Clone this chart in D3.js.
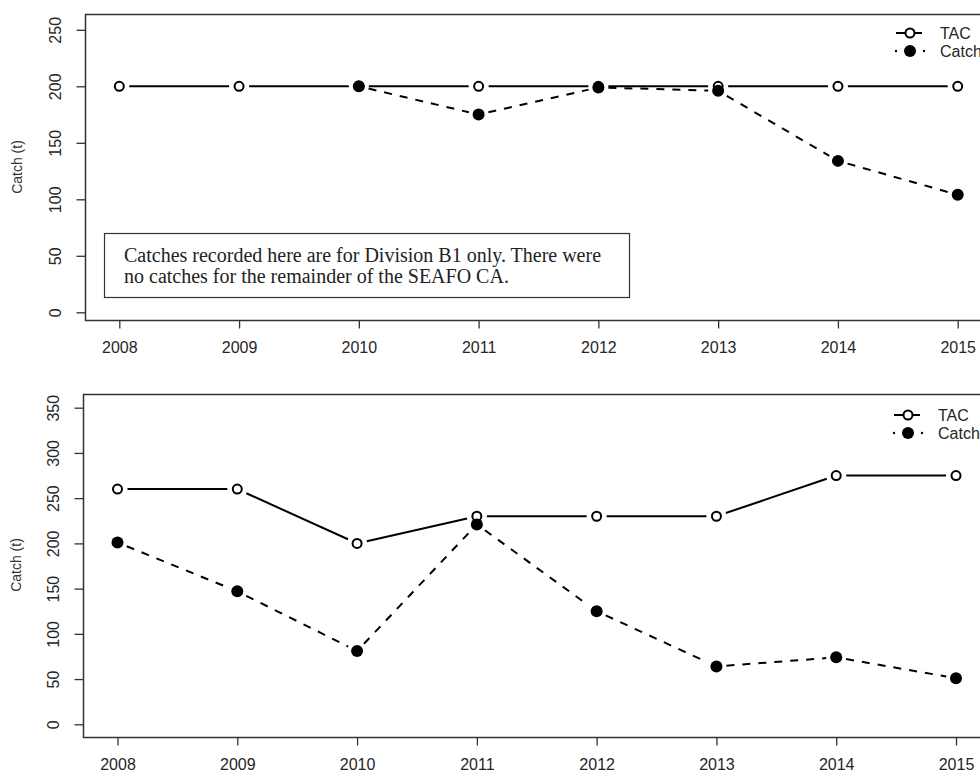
<!DOCTYPE html>
<html>
<head>
<meta charset="utf-8">
<script src="https://cdn.jsdelivr.net/npm/d3@7"></script>
<style>
  body { margin: 0; background: #fff; }
  svg text { font-family: "Liberation Sans", Arial, sans-serif; fill: #262626; }
</style>
</head>
<body>
<div id="chart"></div>
<script>
// data
var years = [2008, 2009, 2010, 2011, 2012, 2013, 2014, 2015];
var tacTop = [200, 200, 200, 200, 200, 200, 200, 200];
var catchTop = [null, null, 200, 175, 199, 196, 134, 104];
var tacBottom = [260, 260, 200, 230, 230, 230, 275, 275];
var catchBottom = [201, 147, 81, 221, 125, 64, 74, 51];
var yTicksTop = [0, 50, 100, 150, 200, 250];
var yTicksBottom = [0, 50, 100, 150, 200, 250, 300, 350];
var noteLines = ["Catches recorded here are for Division B1 only. There were",
                 "no catches for the remainder of the SEAFO CA."];

var W = 980, H = 773;
var svg = d3.select("#chart").append("svg")
    .attr("width", W).attr("height", H);

// segments of a type="b" line, cut short near each point
function gapped(pts, gap) {
    var segs = [];
    for (var i = 0; i < pts.length - 1; i++) {
        var a = pts[i], b = pts[i + 1];
        if (!a || !b) continue;
        var dx = b[0] - a[0], dy = b[1] - a[1];
        var len = Math.sqrt(dx * dx + dy * dy);
        if (len <= 2 * gap) continue;
        var ux = dx / len, uy = dy / len;
        segs.push([a[0] + ux * gap, a[1] + uy * gap, b[0] - ux * gap, b[1] - uy * gap]);
    }
    return segs;
}

function panel(cfg) {
    var g = svg.append("g");
    var x = d3.scaleLinear().domain([2008, 2015]).range(cfg.xr);
    var y = d3.scaleLinear().domain([0, cfg.ymax]).range(cfg.yr);

    // frame
    g.append("rect")
        .attr("x", cfg.left).attr("y", cfg.top)
        .attr("width", 1000 - cfg.left).attr("height", cfg.bottom - cfg.top)
        .attr("fill", "none").attr("stroke", "#333").attr("stroke-width", 1.5);

    // x axis
    var xa = g.append("g").attr("transform", "translate(0," + cfg.bottom + ")")
        .call(d3.axisBottom(x).tickValues(years).tickFormat(d3.format("d")).tickSize(8));
    xa.select(".domain").remove();
    xa.selectAll("line").attr("stroke", "#333").attr("stroke-width", 1.3);
    xa.selectAll("text").attr("y", 27).attr("dy", "0.35em")
        .style("font-size", "16px").style("fill", "#262626");

    // y axis
    var ya = g.append("g").attr("transform", "translate(" + cfg.left + ",0)")
        .call(d3.axisLeft(y).tickValues(cfg.yticks).tickSize(9));
    ya.select(".domain").remove();
    ya.selectAll("line").attr("stroke", "#333").attr("stroke-width", 1.3);
    ya.selectAll("text")
        .attr("x", 0).attr("y", 0).attr("dy", "0.35em")
        .attr("text-anchor", "middle")
        .attr("transform", "translate(-30,0) rotate(-90)")
        .style("font-size", "16px").style("fill", "#262626");

    g.append("text")
        .attr("transform", "translate(" + cfg.titleX + "," + cfg.titleY + ") rotate(-90)")
        .attr("text-anchor", "middle").attr("dy", "0.35em")
        .style("font-size", "14px").style("fill", "#333")
        .text("Catch (t)");

    var tacPts = cfg.tac.map(function(v, i) { return v == null ? null : [x(years[i]), y(v)]; });
    var catchPts = cfg.catches.map(function(v, i) { return v == null ? null : [x(years[i]), y(v)]; });

    // TAC: solid line, open circles
    g.selectAll(".tacseg").data(gapped(tacPts, 10)).enter().append("line")
        .attr("x1", function(d) { return d[0]; }).attr("y1", function(d) { return d[1]; })
        .attr("x2", function(d) { return d[2]; }).attr("y2", function(d) { return d[3]; })
        .attr("stroke", "#000").attr("stroke-width", 2);
    g.selectAll(".tacpt").data(tacPts.filter(Boolean)).enter().append("circle")
        .attr("cx", function(d) { return d[0]; }).attr("cy", function(d) { return d[1]; })
        .attr("r", 4.5).attr("fill", "#fff").attr("stroke", "#000").attr("stroke-width", 2);

    // Catch: dashed line, filled circles
    g.selectAll(".catchseg").data(gapped(catchPts, 10)).enter().append("line")
        .attr("x1", function(d) { return d[0]; }).attr("y1", function(d) { return d[1]; })
        .attr("x2", function(d) { return d[2]; }).attr("y2", function(d) { return d[3]; })
        .attr("stroke", "#000").attr("stroke-width", 2).attr("stroke-dasharray", "8,8");
    g.selectAll(".catchpt").data(catchPts.filter(Boolean)).enter().append("circle")
        .attr("cx", function(d) { return d[0]; }).attr("cy", function(d) { return d[1]; })
        .attr("r", 6).attr("fill", "#000");

    // legend
    var lg = g.append("g").attr("transform", "translate(" + cfg.legX + "," + cfg.legY + ")");
    lg.append("line").attr("x1", -14).attr("x2", 12).attr("y1", 0).attr("y2", 0)
        .attr("stroke", "#000").attr("stroke-width", 2);
    lg.append("circle").attr("r", 4.5).attr("fill", "#fff").attr("stroke", "#000").attr("stroke-width", 2);
    lg.append("circle").attr("cx", -14).attr("cy", 18).attr("r", 1.2).attr("fill", "#000");
    lg.append("circle").attr("cx", 14).attr("cy", 18).attr("r", 1.2).attr("fill", "#000");
    lg.append("circle").attr("cy", 18).attr("r", 6).attr("fill", "#000");
    lg.append("text").attr("x", 30).attr("y", 0).attr("dy", "0.35em")
        .style("font-size", "16px").text("TAC");
    lg.append("text").attr("x", 30).attr("y", 18).attr("dy", "0.35em")
        .style("font-size", "16px").text("Catch");

    return g;
}

var topPanel = panel({
    left: 85.5, top: 14.5, bottom: 320.5,
    xr: [119.3, 957.7], yr: [312.3, 29.8], ymax: 250,
    yticks: yTicksTop, tac: tacTop, catches: catchTop,
    titleX: 17, titleY: 167, legX: 910, legY: 33
});

// note box in the top panel
topPanel.append("rect").attr("x", 104.5).attr("y", 233.5).attr("width", 525).attr("height", 64)
    .attr("fill", "#fff").attr("stroke", "#333").attr("stroke-width", 1.2);
topPanel.selectAll(".note").data(noteLines).enter().append("text")
    .attr("x", 124).attr("y", function(d, i) { return 255 + i * 21; })
    .attr("dy", "0.35em")
    .style("font-family", "'Liberation Serif', 'Times New Roman', serif")
    .style("font-size", "20px").style("fill", "#222")
    .text(function(d) { return d; });

panel({
    left: 83.5, top: 394.5, bottom: 737.5,
    xr: [117.5, 956], yr: [724.3, 407.7], ymax: 350,
    yticks: yTicksBottom, tac: tacBottom, catches: catchBottom,
    titleX: 16, titleY: 565, legX: 908, legY: 415
});
</script>
</body>
</html>
